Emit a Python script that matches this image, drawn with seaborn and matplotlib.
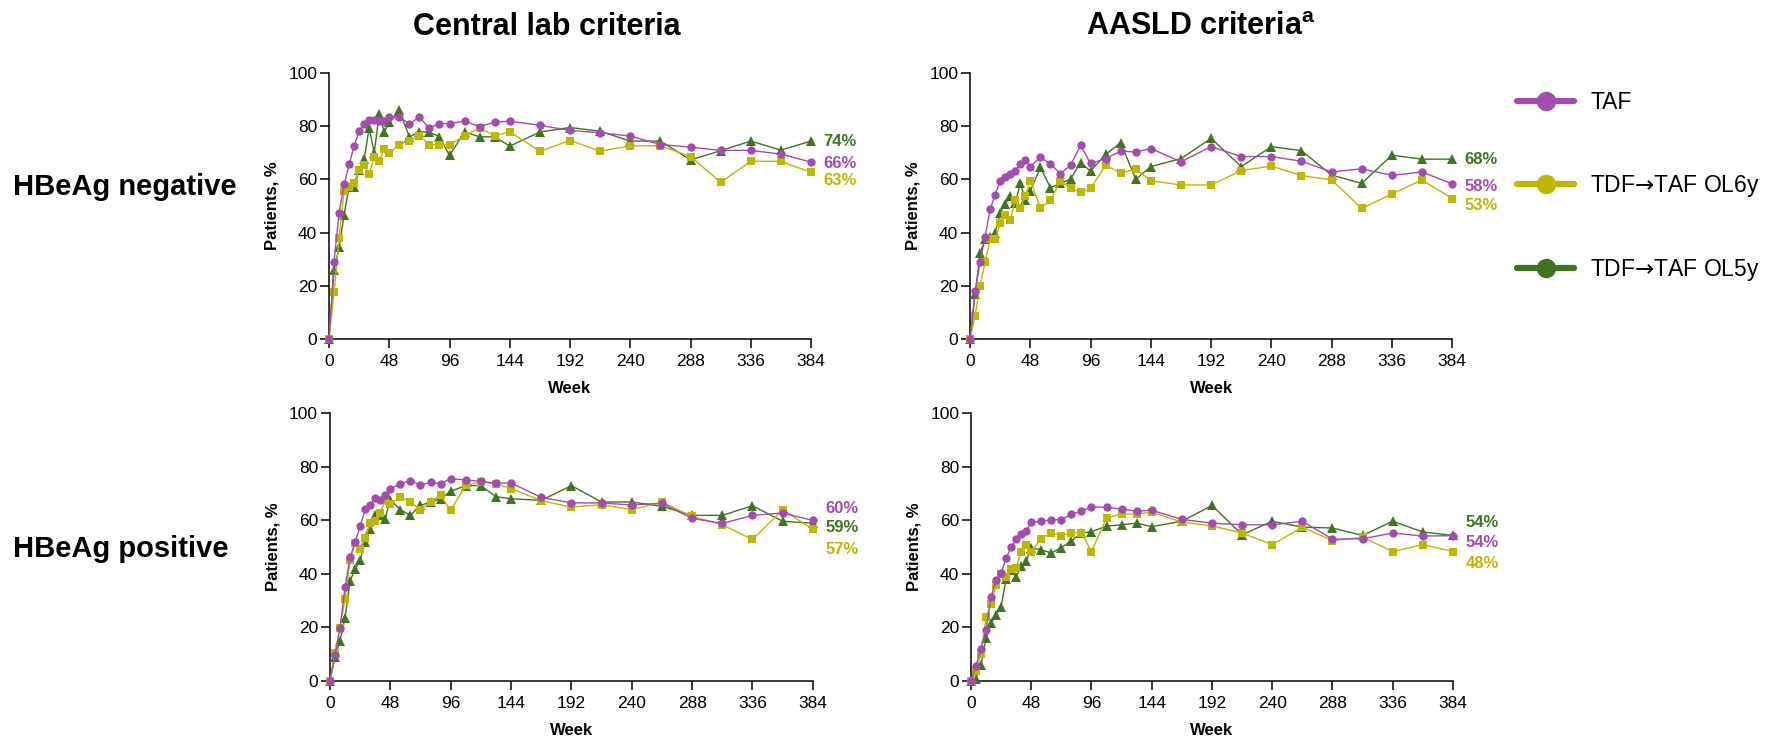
import pandas as pd
import matplotlib.pyplot as plt
import seaborn as sns
from matplotlib.lines import Line2D

# visit weeks (shared by all arms)
weeks = [0, 4, 8, 12, 16, 20, 24, 28, 32, 36, 40, 44, 48,
         56, 64, 72, 80, 88, 96,
         108, 120, 132, 144,
         168, 192, 216, 240, 264, 288, 312, 336, 360, 384]

arms = ["TAF", "TDF$\u2192$TAF OL6y", "TDF$\u2192$TAF OL5y"]

# HBeAg negative, central lab criteria
neg_central_taf = [0, 28.9, 47.5, 58.1, 65.6, 72.5, 78.1, 81, 82.3, 82.3, 82, 82, 83.3,
                   83.3, 81, 83.3, 79.3, 81, 81,
                   81.9, 79.8, 81.5, 81.9,
                   80.3, 78.4, 77.5, 76.3, 73.1, 72.1, 70.9, 70.9, 69.5, 66.5]
neg_central_ol6 = [0, 17.5, 37.9, 55.8, 57.3, 58.8, 63.5, 65.3, 61.9, 68.4, 66.8, 71.5, 69.9,
                   73.1, 74.6, 76.3, 73.1, 73.1, 73.1,
                   76.3, 79.4, 76.3, 77.9,
                   70.6, 74.6, 70.6, 72.6, 72.6, 68.6, 58.9, 66.8, 66.8, 62.6]
neg_central_ol5 = [0, 26, 34.4, 46.6, 57.3, 57.3, 63.5, 67.5, 79.4, 70, 84.5, 77.8, 81.4,
                   86, 76, 77.8, 77.8, 76, 69,
                   77.8, 76, 76, 72.5,
                   77.8, 79.5, 78.1, 74.4, 74.4, 67.3, 70.8, 74.4, 71, 74.4]

# HBeAg negative, AASLD criteria
neg_aasld_taf = [0, 17.9, 29.1, 38.5, 48.8, 54.3, 59.5, 60.8, 62, 63.3, 65.9, 67.3, 64.8,
                 68.3, 65.9, 62.1, 65.3, 72.8, 66,
                 67.8, 70.6, 70.3, 71.6,
                 66.6, 72.3, 68.6, 68.6, 66.8, 62.8, 64, 61.5, 62.8, 58.3]
neg_aasld_ol6 = [0, 8.8, 20.1, 28.9, 37.5, 37.5, 43.5, 46.5, 44.9, 52.1, 49.3, 53.6, 59.5,
                 49.4, 52.1, 59.5, 56.6, 55.1, 56.6,
                 65.3, 62.4, 63.9, 59.5,
                 57.9, 57.9, 63.3, 65, 61.4, 59.8, 49.1, 54.5, 59.8, 52.8]
neg_aasld_ol5 = [0, 16.9, 32.3, 37.5, 38.5, 40, 47.5, 50.6, 53.8, 51, 58.5, 52.3, 55.6,
                 64.5, 56.9, 58.5, 60.1, 66.3, 63.1,
                 69.4, 73.8, 60, 64.8,
                 67.8, 75.4, 64.8, 72.3, 70.8, 61.6, 58.5, 69.1, 67.6, 67.6]

# HBeAg positive, central lab criteria
pos_central_taf = [0, 9.7, 19.7, 34.9, 46.1, 51.7, 57.7, 64, 65.7, 68.2, 67.4, 69.3, 71.7,
                   73.5, 74.8, 73.1, 74.1, 73.6, 75.5,
                   75, 74.5, 73.8, 73.9,
                   68.5, 66.5, 66.4, 65.7, 66.3, 60.7, 58.8, 61.8, 62.7, 59.9]
pos_central_ol6 = [0, 10.3, 19.7, 30.5, 45.1, 51.5, 49.1, 53.2, 58.8, 59.6, 62.8, 67.4, 66.2,
                   68.5, 66.8, 63.7, 66.8, 69.3, 63.7,
                   73, 74.3, 73.6, 71.8,
                   67.3, 64.9, 65.8, 63.9, 66.8, 61.4, 58.3, 52.8, 63.9, 56.6]
pos_central_ol5 = [0, 9, 15, 23.4, 37.4, 41.7, 45, 51.7, 56.7, 62, 62, 60.6, 67.7,
                   63.9, 61.8, 65.5, 66.8, 68, 70.8,
                   72.9, 72.9, 68.8, 68,
                   67.4, 72.9, 66.8, 66.8, 65.2, 61.8, 61.8, 65.4, 59.6, 58.9]

# HBeAg positive, AASLD criteria
pos_aasld_taf = [0, 5.6, 12.1, 19.2, 31.5, 37.5, 40.3, 45.8, 49.9, 52.8, 54.9, 55.8, 59.3,
                 59.6, 60.2, 60.2, 62.3, 63.3, 65,
                 64.8, 64.2, 63.4, 63.7,
                 60.3, 58.9, 58.3, 58.3, 59.6, 52.9, 53.1, 55.2, 54.1, 54.2]
pos_aasld_ol6 = [0, 3.6, 9.9, 23.7, 28.6, 35.8, 39.8, 38.7, 41.7, 42.3, 48.3, 50.8, 48.3,
                 53.1, 55.3, 54.2, 55.3, 55.3, 48.3,
                 60.8, 62.3, 62.3, 63,
                 59.3, 57.9, 55.2, 50.9, 57.4, 52.4, 53.6, 48.3, 50.9, 48.3]
pos_aasld_ol5 = [0, 0.9, 5.9, 16.2, 21.5, 24.8, 27.7, 38, 41.5, 38.7, 43, 44.6, 49.6,
                 49, 47.7, 49.8, 52.3, 55.2, 55.7,
                 57.8, 58.3, 58.9, 57.6,
                 59.6, 65.5, 54.6, 59.6, 57.4, 57.1, 54.3, 59.6, 55.6, 54.3]

# week-384 labels (TAF, OL6y, OL5y)
neg_central_labels = ["66%", "63%", "74%"]
neg_aasld_labels = ["58%", "53%", "68%"]
pos_central_labels = ["60%", "57%", "59%"]
pos_aasld_labels = ["54%", "48%", "54%"]

col_titles = ["Central lab criteria", "AASLD criteria$^{\\mathbf{a}}$"]
row_titles = ["HBeAg negative", "HBeAg positive"]

colors = {arms[0]: "#A34BAF", arms[1]: "#BDB700", arms[2]: "#3F7421"}
markers = {arms[0]: "o", arms[1]: "s", arms[2]: "^"}
msizes = {arms[0]: 6.0, arms[1]: 6.0, arms[2]: 6.5}

sns.set_style("ticks")
plt.rcParams["font.family"] = ["Liberation Sans", "DejaVu Sans"]
plt.rcParams["mathtext.fontset"] = "custom"
plt.rcParams["mathtext.rm"] = "DejaVu Sans"
plt.rcParams["mathtext.it"] = "DejaVu Sans:italic"
plt.rcParams["mathtext.bf"] = "Liberation Sans:bold"
for key in ["text.color", "axes.labelcolor", "xtick.color", "ytick.color"]:
    plt.rcParams[key] = "black"

panels = [
    # series, labels, label y positions (data units), axes rect
    ((neg_central_taf, neg_central_ol6, neg_central_ol5), neg_central_labels,
     (66, 59.5, 74.1), [0.1862, 0.540, 0.2728, 0.361]),
    ((neg_aasld_taf, neg_aasld_ol6, neg_aasld_ol5), neg_aasld_labels,
     (57.5, 50, 67.3), [0.549, 0.540, 0.2728, 0.361]),
    ((pos_central_taf, pos_central_ol6, pos_central_ol5), pos_central_labels,
     (64.2, 49.2, 57.4), [0.1867, 0.076, 0.2733, 0.3636]),
    ((pos_aasld_taf, pos_aasld_ol6, pos_aasld_ol5), pos_aasld_labels,
     (51.5, 43.8, 59.3), [0.5495, 0.076, 0.2728, 0.3636]),
]

fig = plt.figure(figsize=(17.67, 7.37), dpi=100)

for series, labels, label_y, rect in panels:
    ax = fig.add_axes(rect)
    frames = []
    for arm, vals in zip(arms, series):
        frames.append(pd.DataFrame({"week": weeks, "pct": vals, "arm": arm}))
    df = pd.concat(frames, ignore_index=True)
    # draw OL5y first, TAF last (on top)
    for arm in arms[::-1]:
        sub = df[df["arm"] == arm]
        sns.lineplot(data=sub, x="week", y="pct", color=colors[arm],
                     marker=markers[arm], markersize=msizes[arm],
                     markeredgewidth=0, linewidth=1.0, clip_on=False,
                     zorder=3, ax=ax, legend=False)
    for arm, txt, ly in zip(arms, labels, label_y):
        ax.annotate(txt, xy=(384, ly), xytext=(9, 0), textcoords="offset points",
                    ha="left", va="center", color=colors[arm],
                    fontsize=12, fontweight="bold", annotation_clip=False)
    ax.set_xlim(0, 384)
    ax.set_ylim(0, 100)
    ax.set_xticks(range(0, 385, 48))
    ax.set_yticks(range(0, 101, 20))
    ax.tick_params(labelsize=12.5, length=6.5, width=1.1, color="black")
    ax.tick_params(axis="x", pad=4)
    ax.tick_params(axis="y", pad=2)
    for side in ["left", "bottom"]:
        ax.spines[side].set_linewidth(1.1)
        ax.spines[side].set_color("black")
    sns.despine(ax=ax)
    ax.set_xlabel("Week", fontsize=12, fontweight="bold", labelpad=9)
    ax.set_ylabel("Patients, %", fontsize=12, fontweight="bold", labelpad=6)

fig.text(547 / 1767, 1 - 27 / 737, col_titles[0], ha="center", va="center",
         fontsize=22, fontweight="bold")
fig.text(1201 / 1767, 1 - 27 / 737, col_titles[1], ha="center", va="center",
         fontsize=22, fontweight="bold")
fig.text(13 / 1767, 1 - 187 / 737, row_titles[0], ha="left", va="center",
         fontsize=21, fontweight="bold")
fig.text(13 / 1767, 1 - 549 / 737, row_titles[1], ha="left", va="center",
         fontsize=21, fontweight="bold")

handles = [Line2D([], [], color=colors[a], lw=4.5, marker="o", markersize=13)
           for a in arms]
fig.legend(handles, arms, loc="upper left", bbox_to_anchor=(0.8585, 0.876),
           frameon=False, fontsize=16.5, handlelength=2.5, handletextpad=0.7,
           labelspacing=2.55, borderpad=0, borderaxespad=0)

fig.savefig("out.png", dpi=100)
